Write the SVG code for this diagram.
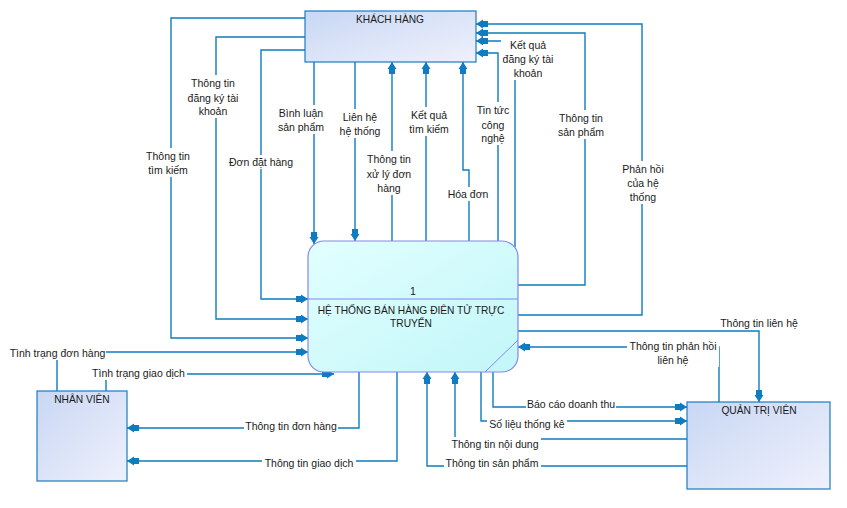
<svg xmlns="http://www.w3.org/2000/svg" width="847" height="508" viewBox="0 0 847 508">
<defs>
<linearGradient id="gEnt" x1="0" y1="0" x2="1" y2="1">
<stop offset="0" stop-color="#c8d7f4"/><stop offset="1" stop-color="#eff1fc"/>
</linearGradient>
<linearGradient id="gProc" x1="0" y1="0" x2="1" y2="1">
<stop offset="0" stop-color="#e2ffff"/><stop offset="1" stop-color="#c2f6f8"/>
</linearGradient>
<marker id="a" viewBox="-13 -6 14 12" markerWidth="14" markerHeight="12" refX="0" refY="0" orient="auto" markerUnits="userSpaceOnUse">
<path d="M-12,-3 H-7 V-4.5 L0,0 L-7,4.5 V3 H-12 Z" fill="#0f7cbf"/>
</marker>
<style>
.ent{fill:url(#gEnt);stroke:#1a7cc0;stroke-width:1.2}
.proc{fill:url(#gProc);stroke:#8585f0;stroke-width:1.2}
.c{fill:none;stroke:#0f7cbf;stroke-width:1.4;marker-end:url(#a)}
.bg{fill:#ffffff}
text{font-family:"Liberation Sans","DejaVu Sans",sans-serif;font-size:10.5px;fill:#1a1a1a;text-anchor:middle}
.t{font-size:10.2px}
</style>
</defs>
<rect width="847" height="508" fill="#ffffff"/>

<g id="connectors">
<path class="c" d="M305,18 H171 V338 H308"/>
<path class="c" d="M305,37 H216 V319 H308"/>
<path class="c" d="M305,50 H261 V299 H308"/>
<path class="c" d="M314,62 V244"/>
<path class="c" d="M355,62 V241"/>
<path class="c" d="M392,241 V62"/>
<path class="c" d="M426,241 V62"/>
<path class="c" d="M469,241 V170 H463 V62"/>
<path class="c" d="M498,241 V53 H476"/>
<path class="c" d="M515,247 V41 H476"/>
<path class="c" d="M518,285 H585 V33 H476"/>
<path class="c" d="M518,315 H642 V24 H476"/>
<path class="c" d="M57,391 V352 H308"/>
<path class="c" d="M106,391 V374 H334"/>
<path class="c" d="M359,372 V428 H127"/>
<path class="c" d="M397,372 V461 H127"/>
<path class="c" d="M687,466 H427 V372"/>
<path class="c" d="M687,439 H455 V372"/>
<path class="c" d="M481,372 V421 H687"/>
<path class="c" d="M493,372 V407 H687"/>
<path class="c" d="M518,331 H759 V402"/>
<path class="c" d="M719,402 V347 H518"/>
</g>

<g id="labels">
<g><rect class="bg" x="145" y="148" width="46" height="29"/><text x="168" y="160">Thông tin</text><text x="168" y="174">tìm kiếm</text></g>
<g><rect class="bg" x="185" y="75" width="56" height="43"/><text x="213" y="87">Thông tin</text><text x="213" y="102">đăng ký tài</text><text x="213" y="115">khoản</text></g>
<g><rect class="bg" x="228" y="155" width="66" height="14"/><text x="261" y="166">Đơn đặt hàng</text></g>
<g><rect class="bg" x="277" y="105" width="48" height="29"/><text x="301" y="117">Bình luận</text><text x="301" y="131">sản phẩm</text></g>
<g><rect class="bg" x="338" y="109" width="44" height="29"/><text x="360" y="121">Liên hệ</text><text x="360" y="135">hệ thống</text></g>
<g><rect class="bg" x="366" y="151" width="46" height="44"/><text x="389" y="163">Thông tin</text><text x="389" y="178">xử lý đơn</text><text x="389" y="192">hàng</text></g>
<g><rect class="bg" x="408" y="107" width="42" height="29"/><text x="429" y="119">Kết quả</text><text x="429" y="133">tìm kiếm</text></g>
<g><rect class="bg" x="447" y="187" width="42" height="14"/><text x="468" y="198">Hóa đơn</text></g>
<g><rect class="bg" x="476" y="102" width="34" height="43"/><text x="493" y="114">Tin tức</text><text x="493" y="129">công</text><text x="493" y="142">nghệ</text></g>
<g><rect class="bg" x="501" y="37" width="54" height="43"/><text x="528" y="49">Kết quả</text><text x="528" y="63">đăng ký tài</text><text x="528" y="77">khoản</text></g>
<g><rect class="bg" x="557" y="110" width="48" height="29"/><text x="581" y="122">Thông tin</text><text x="581" y="136">sản phẩm</text></g>
<g><rect class="bg" x="621" y="161" width="44" height="43"/><text x="643" y="173">Phản hồi</text><text x="643" y="187">của hệ</text><text x="643" y="201">thống</text></g>
<g><rect class="bg" x="9" y="346" width="97" height="14"/><text x="57.5" y="357">Tình trạng đơn hàng</text></g>
<g><rect class="bg" x="90" y="366" width="97" height="14"/><text x="138.5" y="377">Tình trạng giao dịch</text></g>
<g><rect class="bg" x="244" y="419" width="94" height="14"/><text x="291" y="430">Thông tin đơn hàng</text></g>
<g><rect class="bg" x="262" y="456" width="94" height="14"/><text x="309" y="467">Thông tin giao dịch</text></g>
<g><rect class="bg" x="526" y="397" width="90" height="14"/><text x="571" y="408">Báo cáo doanh thu</text></g>
<g><rect class="bg" x="487" y="417" width="80" height="14"/><text x="527" y="428">Số liệu thống kê</text></g>
<g><rect class="bg" x="449" y="437" width="92" height="14"/><text x="495" y="448">Thông tin nội dung</text></g>
<g><rect class="bg" x="444" y="456" width="97" height="14"/><text x="492" y="467">Thông tin sản phẩm</text></g>
<g><rect class="bg" x="627" y="339" width="92" height="28"/><text x="673" y="350">Thông tin phản hồi</text><text x="673" y="364">liên hệ</text></g>
<g><text x="759" y="327">Thông tin liên hệ</text></g>
</g>

<g id="khach-hang"><rect class="ent" x="305" y="11" width="171" height="51"/><text class="t" x="390" y="23">KHÁCH HÀNG</text></g>
<g id="he-thong">
<rect class="proc" x="308" y="241" width="210" height="131" rx="16" ry="16"/>
<line x1="308" y1="299" x2="518" y2="299" stroke="#8585f0" stroke-width="1.2"/>
<line x1="485" y1="372" x2="518" y2="340" stroke="#8585f0" stroke-width="1"/>
<text x="413" y="295">1</text>
<text class="t" x="411" y="314">HỆ THỐNG BÁN HÀNG ĐIÊN TỬ TRỰC</text>
<text class="t" x="411" y="327">TRUYẾN</text>
</g>
<g id="nhan-vien"><rect class="ent" x="37" y="391" width="90" height="90"/><text class="t" x="82" y="403">NHÂN VIÊN</text></g>
<g id="quan-tri-vien"><rect class="ent" x="687" y="402" width="143" height="87"/><text class="t" x="759" y="414">QUẢN TRỊ VIÊN</text></g>
</svg>
